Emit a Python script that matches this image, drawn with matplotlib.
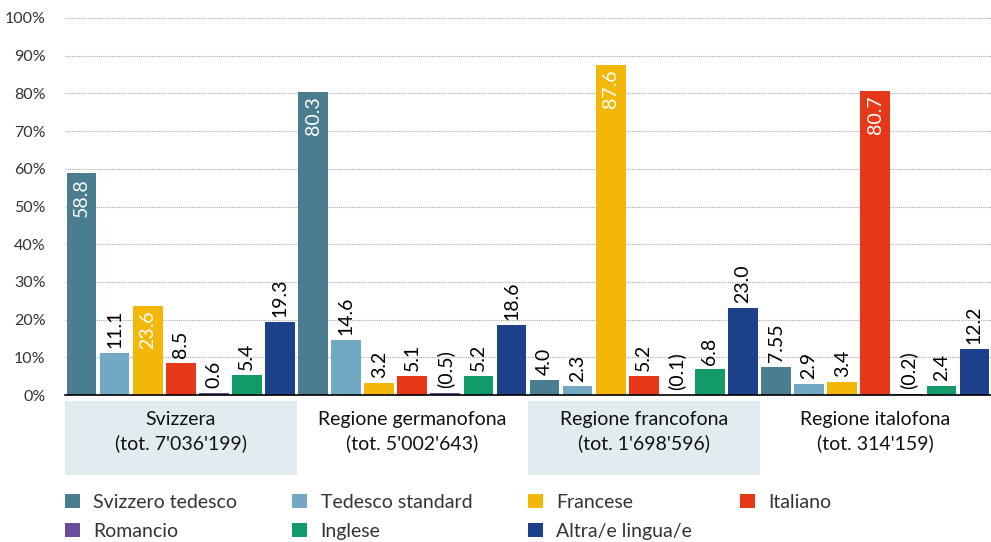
import numpy as np
import matplotlib.pyplot as plt
from matplotlib.patches import Rectangle, Patch
import matplotlib.transforms as mtransforms

plt.rcParams['font.family'] = ['Lato', 'DejaVu Sans']

# data
groups = ["Svizzera\n(tot. 7'036'199)", "Regione germanofona\n(tot. 5'002'643)",
          "Regione francofona\n(tot. 1'698'596)", "Regione italofona\n(tot. 314'159)"]
languages = ["Svizzero tedesco", "Tedesco standard", "Francese", "Italiano",
             "Romancio", "Inglese", "Altra/e lingua/e"]
colors = ["#4a7d8f", "#72a8c3", "#f2b707", "#e63719", "#6b4c9a", "#139a69", "#1c418a"]

svizzera = [58.8, 11.1, 23.6, 8.5, 0.6, 5.4, 19.3]
germanofona = [80.3, 14.6, 3.2, 5.1, 0.5, 5.2, 18.6]
francofona = [4.0, 2.3, 87.6, 5.2, 0.1, 6.8, 23.0]
italofona = [7.55, 2.9, 3.4, 80.7, 0.2, 2.4, 12.2]

labels_sv = ["58.8", "11.1", "23.6", "8.5", "0.6", "5.4", "19.3"]
labels_ge = ["80.3", "14.6", "3.2", "5.1", "(0.5)", "5.2", "18.6"]
labels_fr = ["4.0", "2.3", "87.6", "5.2", "(0.1)", "6.8", "23.0"]
labels_it = ["7.55", "2.9", "3.4", "80.7", "(0.2)", "2.4", "12.2"]

# which labels sit inside the bar (white)
inside_sv = [True, False, True, False, False, False, False]
inside_ge = [True, False, False, False, False, False, False]
inside_fr = [False, False, True, False, False, False, False]
inside_it = [False, False, False, True, False, False, False]

all_vals = [svizzera, germanofona, francofona, italofona]
all_labels = [labels_sv, labels_ge, labels_fr, labels_it]
all_inside = [inside_sv, inside_ge, inside_fr, inside_it]

fig = plt.figure(figsize=(9.91, 5.42), dpi=100)
ax = fig.add_axes([0.0656, 0.271, 0.9344, 0.696])

n = len(languages)
for g, vals in enumerate(all_vals):
    x = g * n + np.arange(n)
    ax.bar(x, vals, width=0.9, color=colors, zorder=3)
    for xi, v, lab, ins in zip(x, vals, all_labels[g], all_inside[g]):
        if ins:
            ax.text(xi, v - 1.2, lab, rotation=90, ha='center', va='top',
                    color='white', fontsize=14, zorder=4)
        else:
            ax.text(xi, v + 1.3, lab, rotation=90, ha='center', va='bottom',
                    color='black', fontsize=14, zorder=4)

ax.set_xlim(-0.5, 4 * n - 0.5)
ax.set_ylim(0, 100)
ax.set_yticks(np.arange(0, 101, 10))
ax.set_yticklabels([f"{t}%" for t in range(0, 101, 10)], fontsize=11.5, color='#333333')
ax.tick_params(axis='y', length=0, pad=14)
ax.set_xticks([])
ax.grid(axis='y', color='#aaaaaa', linestyle=(0, (1, 1)), linewidth=0.8, zorder=0)
for s in ['top', 'right', 'left']:
    ax.spines[s].set_visible(False)
ax.spines['bottom'].set_color('black')
ax.spines['bottom'].set_linewidth(1.2)
ax.spines['bottom'].set_zorder(5)

# group labels with shaded boxes
trans = mtransforms.blended_transform_factory(ax.transData, ax.transAxes)
for g, name in enumerate(groups):
    left = g * n - 0.5
    if g % 2 == 0:
        ax.add_patch(Rectangle((left, -0.212), n, 0.196, transform=trans,
                               facecolor='#e1ecf0', edgecolor='none', clip_on=False))
    ax.text(left + n / 2, -0.096, name, transform=trans, ha='center', va='center',
            fontsize=14, linespacing=1.45, color='#111111')

# legend: one small legend per column so the columns line up like the original
handles = [Patch(facecolor=c, edgecolor='none') for c in colors]
legend_cols = [[0, 4], [1, 5], [2, 6], [3]]
col_x = [0.0656, 0.295, 0.533, 0.747]
for idx, cx in zip(legend_cols, col_x):
    leg = fig.legend([handles[i] for i in idx], [languages[i] for i in idx],
                     loc='upper left', bbox_to_anchor=(cx, 0.089),
                     frameon=False, fontsize=14, handlelength=0.75, handleheight=0.75,
                     handletextpad=0.7, labelspacing=0.62, borderpad=0,
                     borderaxespad=0, labelcolor='#333333')

fig.savefig("out.png", dpi=100)
